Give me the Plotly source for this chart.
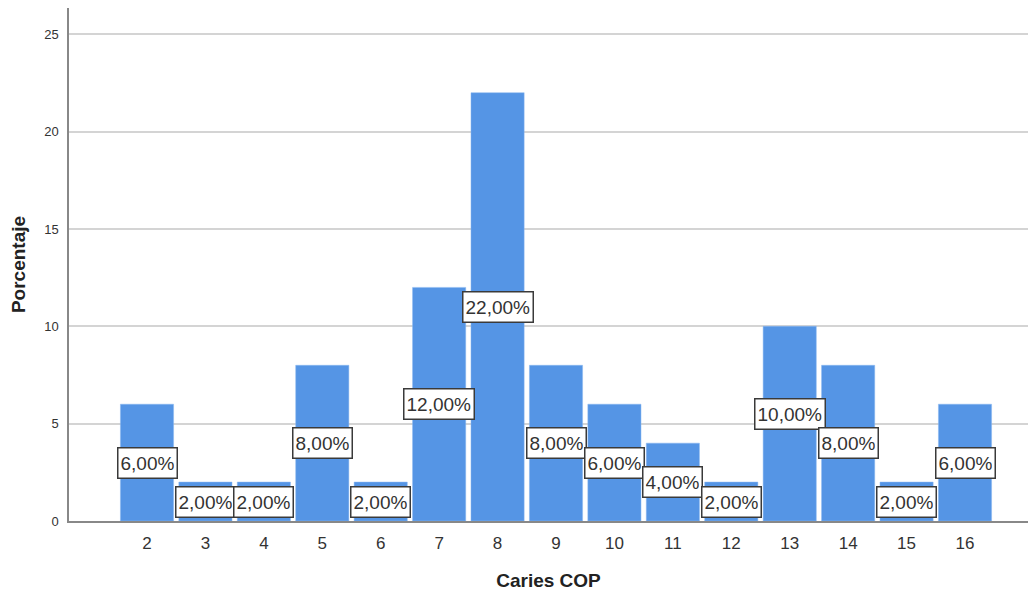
import plotly.graph_objects as go

categories = [2, 3, 4, 5, 6, 7, 8, 9, 10, 11, 12, 13, 14, 15, 16]
percent = [6, 2, 2, 8, 2, 12, 22, 8, 6, 4, 2, 10, 8, 2, 6]
labels = ["6,00%", "2,00%", "2,00%", "8,00%", "2,00%", "12,00%", "22,00%", "8,00%",
          "6,00%", "4,00%", "2,00%", "10,00%", "8,00%", "2,00%", "6,00%"]
y_ticks = [0, 5, 10, 15, 20, 25]

fig = go.Figure()
fig.add_trace(go.Bar(
    x=categories, y=percent,
    marker=dict(color="#5595e5", line=dict(color="#8ab8f0", width=0.5)),
    width=0.91,
    hoverinfo="skip",
))

annotations = []
for c, v, t in zip(categories, percent, labels):
    annotations.append(dict(
        x=c, y=v / 2, xref="x", yref="y", text=t, showarrow=False,
        font=dict(family="Arial, Liberation Sans", size=19, color="#333333"),
        bgcolor="white", bordercolor="#3a3a3a", borderwidth=1.5, borderpad=2,
        height=25,
        yshift=10 if c == 13 else 0,
    ))

fig.update_layout(
    width=1030, height=595,
    margin=dict(l=69, r=2, t=8, b=74),
    paper_bgcolor="white", plot_bgcolor="white",
    showlegend=False,
    font=dict(family="Arial, Liberation Sans", color="#222222"),
    annotations=annotations,
    xaxis=dict(
        range=[2 - 78 / 58.43, 16 + 63 / 58.43],
        tickmode="array", tickvals=categories, ticktext=[str(c) for c in categories],
        tickfont=dict(size=17, color="#333333"),
        showgrid=False, zeroline=False,
        showline=True, linecolor="#888888", linewidth=1.5,
        ticks="", ticklabelstandoff=6,
        title=dict(text="<b>Caries COP</b>", font=dict(size=19, color="#222222"), standoff=22),
    ),
    yaxis=dict(
        range=[0, 26.35],
        tickmode="array", tickvals=y_ticks, ticktext=[str(v) for v in y_ticks],
        tickfont=dict(size=13, color="#333333"),
        showgrid=True, gridcolor="#d4d4d4", gridwidth=1.5,
        zeroline=False,
        showline=True, linecolor="#888888", linewidth=1.5,
        ticks="", ticklabelstandoff=6,
        title=dict(text="<b>Porcentaje</b>", font=dict(size=19, color="#222222"), standoff=14),
    ),
)

fig.write_html("out.html")
